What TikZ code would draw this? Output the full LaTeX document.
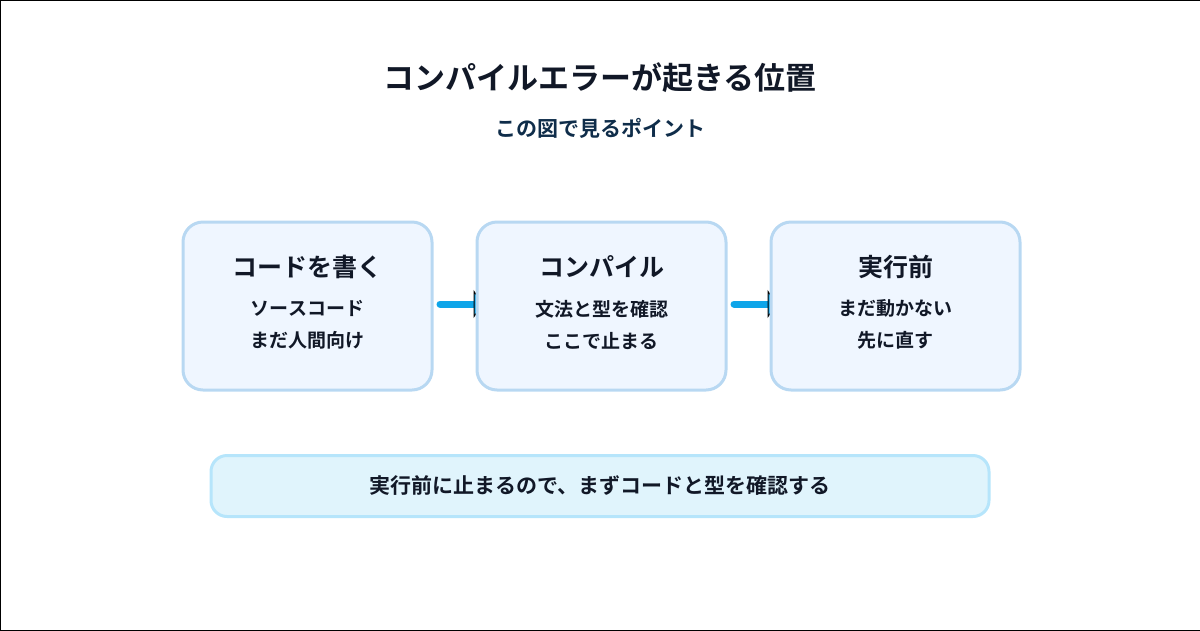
\documentclass[tikz,border=0pt]{standalone}
\usepackage{fontspec}
\setmainfont{Noto Sans CJK JP}
\newfontfamily\jpb{Noto Sans CJK JP Bold}
\usetikzlibrary{arrows.meta,backgrounds}
\definecolor{boxfill}{HTML}{EFF6FF}
\definecolor{boxline}{HTML}{B8D8F2}
\definecolor{noteFill}{HTML}{E0F4FC}
\definecolor{noteLine}{HTML}{B6E5FB}
\definecolor{arr}{HTML}{0EA5E9}
\definecolor{ink}{HTML}{111827}
\definecolor{sub}{HTML}{0F2D4A}
\begin{document}
\begin{tikzpicture}[x=1pt,y=-1pt,
  stagebox/.style={draw=boxline,line width=3pt,fill=boxfill,rounded corners=20pt,minimum width=249pt,minimum height=168pt,anchor=north west},
  head/.style={font=\jpb\fontsize{25}{30}\selectfont,text=ink},
  body/.style={font=\jpb\fontsize{19}{32}\selectfont,text=ink,align=center},
  conn/.style={draw=arr,line width=7pt,line cap=round,-{Triangle[length=10pt,width=28pt,line width=1pt,fill=arr,color=black]}}]
\useasboundingbox (0,0) rectangle (1200,630);
\draw[black,line width=1pt] (0,0) rectangle (1200,630);
\node[font=\jpb\fontsize{31}{36}\selectfont,text=ink] (title) at (600,78) {コンパイルエラーが起きる位置};
\node[font=\jpb\fontsize{21}{26}\selectfont,text=sub] (subt) at (600,128) {この図で見るポイント};
\node[stagebox] (a) at (181.5,220.5) {};
\node[stagebox] (b) at (475.5,220.5) {};
\node[stagebox] (c) at (769.5,220.5) {};
\foreach \n/\h/\l/\m in {a/コードを書く/ソースコード/まだ人間向け, b/コンパイル/文法と型を確認/ここで止まる, c/実行前/まだ動かない/先に直す}{
  \node[head] (\n h) at ([yshift=-46pt]\n.north) {\h};
  \node[body] (\n t) at ([yshift=-104pt]\n.north) {\l\\\m};
}
\node[draw=noteLine,line width=3pt,fill=noteFill,rounded corners=16pt,minimum width=778pt,minimum height=61pt,font=\jpb\fontsize{21}{26}\selectfont,text=ink] (note) at (600,486) {実行前に止まるので、まずコードと型を確認する};
\begin{scope}[on background layer]
\coordinate (a1) at (440,304); \coordinate (b1) at (734,304);
\draw[conn] (a1) -- ([xshift=8pt]b.west|-a1);
\draw[conn] (b1) -- ([xshift=8pt]c.west|-b1);
\end{scope}
\end{tikzpicture}
\end{document}
